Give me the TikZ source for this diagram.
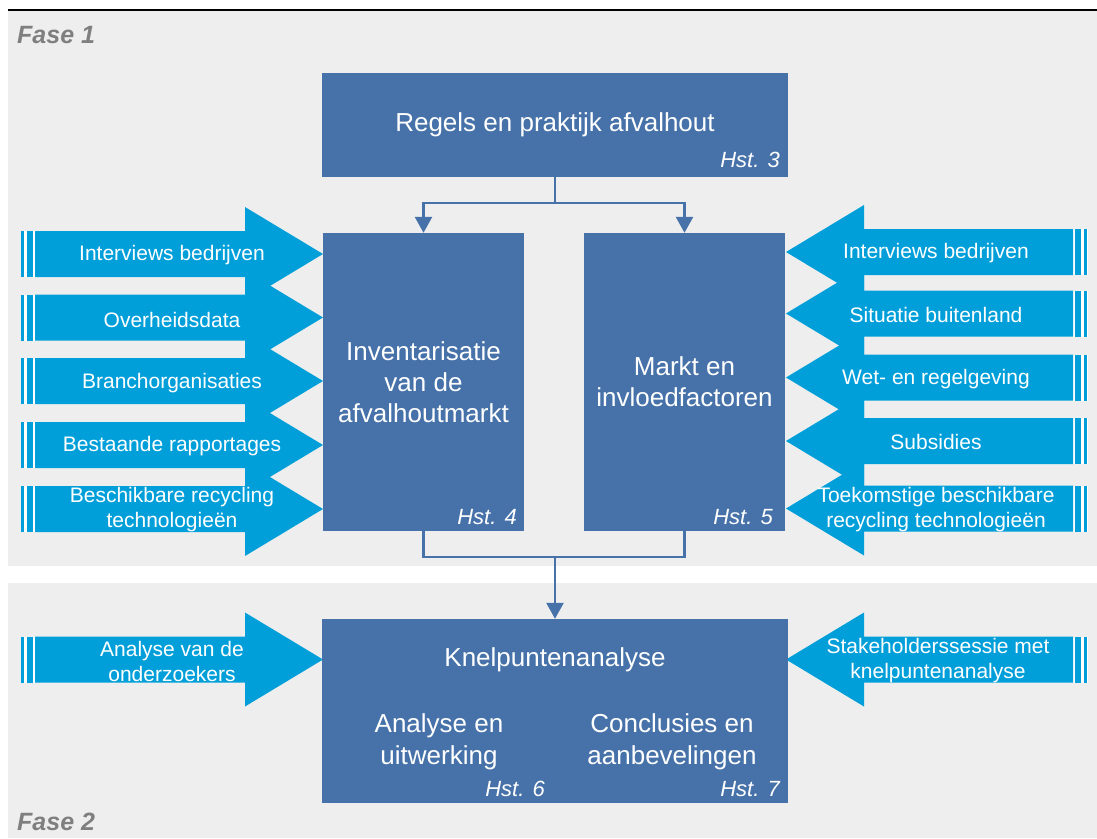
\documentclass[tikz,border=0pt]{standalone}
\usepackage{fontspec}
\setmainfont{Liberation Sans}
\usepackage{tikz}
\usepackage{xcolor}
\usetikzlibrary{arrows.meta}

\definecolor{boxblue}{HTML}{4672A9}
\definecolor{arrowcyan}{HTML}{009FDA}
\definecolor{bggray}{HTML}{EEEEEE}
\definecolor{fasegray}{HTML}{7F7F7F}

% block arrow pointing right, #1 = centre y
\newcommand{\inarrowright}[1]{%
	\fill[white] (21,#1-23) rectangle (35,#1+23);
	\fill[arrowcyan] (35,#1-23) -- (245,#1-23) -- (245,#1-47) -- (323,#1) -- (245,#1+47) -- (245,#1+23) -- (35,#1+23) -- cycle;
	\fill[arrowcyan] (27,#1-23) rectangle (33,#1+23);
	\fill[arrowcyan] (21,#1-23) rectangle (24,#1+23);}
% block arrow pointing left, #1 = centre y
\newcommand{\inarrowleft}[1]{%
	\fill[white] (1073,#1-23) rectangle (1088,#1+23);
	\fill[arrowcyan] (1073,#1-23) -- (864,#1-23) -- (864,#1-47) -- (786,#1) -- (864,#1+47) -- (864,#1+23) -- (1073,#1+23) -- cycle;
	\fill[arrowcyan] (1075,#1-23) rectangle (1081,#1+23);
	\fill[arrowcyan] (1084,#1-23) rectangle (1087,#1+23);}

\begin{document}
\begin{tikzpicture}[x=1pt, y=-1pt,
		box/.style={fill=boxblue, text=white, align=center, inner sep=0pt, font=\fontsize{26}{31}\selectfont},
		boxtext/.style={text=white, align=center, font=\fontsize{26}{32}\selectfont},
		arrowtext/.style={text=white, align=center, inner sep=0pt, font=\fontsize{21}{25}\selectfont},
		hst/.style={text=white, anchor=east, inner sep=0pt, font=\fontsize{22}{26}\selectfont\itshape},
		fase/.style={text=fasegray, anchor=west, inner sep=0pt, font=\fontsize{25}{30}\selectfont\bfseries\itshape},
		line/.style={draw=boxblue, line width=2.6pt},
		conn/.style={line, -{Triangle[length=16pt,width=17pt]}}]
	\useasboundingbox (0,0) rectangle (1097,838);
	% phases
	\fill[bggray] (8,11) rectangle (1097,566);
	\fill[bggray] (8,583) rectangle (1097,838);
	\draw[line width=2.5pt] (8,10) -- (1097,10);
	\node[fase] (fase1) at (17,35) {Fase 1};
	\node[fase] (fase2) at (17,822) {Fase 2};

	% inputs left
	\inarrowright{254}
	\inarrowright{317.5}
	\inarrowright{381}
	\inarrowright{445}
	\inarrowright{509}
	\inarrowright{659.5}
	\node[arrowtext] (inl1) at (172,255) {Interviews bedrijven};
	\node[arrowtext] (inl2) at (172,320) {Overheidsdata};
	\node[arrowtext] (inl3) at (172,383) {Branchorganisaties};
	\node[arrowtext] (inl4) at (172,446) {Bestaande rapportages};
	\node[arrowtext] (inl5) at (172,510) {Beschikbare recycling\\technologieën};
	\node[arrowtext] (inl6) at (172,661) {Analyse van de\\onderzoekers};

	% inputs right
	\inarrowleft{252}
	\inarrowleft{313.5}
	\inarrowleft{377.5}
	\inarrowleft{441}
	\inarrowleft{508.5}
	\inarrowleft{659.5}
	\node[arrowtext] (inr1) at (936,253) {Interviews bedrijven};
	\node[arrowtext] (inr2) at (936,315) {Situatie buitenland};
	\node[arrowtext] (inr3) at (936,379) {Wet- en regelgeving};
	\node[arrowtext] (inr4) at (936,442) {Subsidies};
	\node[arrowtext] (inr5) at (936,510) {Toekomstige beschikbare\\recycling technologieën};
	\node[arrowtext] (inr6) at (938,661) {Stakeholderssessie met\\knelpuntenanalyse};

	% chapters
	\node[box, minimum width=466, minimum height=104] (regels) at (555,125) {Regels en praktijk afvalhout};
	\node[box, minimum width=201, minimum height=298] (invent) at (423.5,382) {Inventarisatie\\van de\\afvalhoutmarkt};
	\node[box, minimum width=201, minimum height=298] (markt) at (684.5,382) {Markt en\\invloedfactoren};
	\node[box, minimum width=466, minimum height=184] (knel) at (555,711) {};
	\node[boxtext] (knelt) at (555,660) {Knelpuntenanalyse};
	\node[boxtext] (analyse) at (439,742) {Analyse en\\uitwerking};
	\node[boxtext] (concl) at (672,742) {Conclusies en\\aanbevelingen};
	\node[hst] (h3) at (780,160) {Hst. 3};
	\node[hst] (h4) at (517,517) {Hst. 4};
	\node[hst] (h5) at (773,517) {Hst. 5};
	\node[hst] (h6) at (545,789) {Hst. 6};
	\node[hst] (h7) at (780,789) {Hst. 7};

	% connectors
	\coordinate (split) at (555,203);
	\coordinate (join) at (555,557);
	\draw[line] (regels.south) -- (split);
	\draw[conn] (split) -| (invent.north);
	\draw[conn] (split) -| (markt.north);
	\draw[line] (invent.south) |- (join) -| (markt.south);
	\draw[conn] (join) -- (knel.north);
\end{tikzpicture}
\end{document}
